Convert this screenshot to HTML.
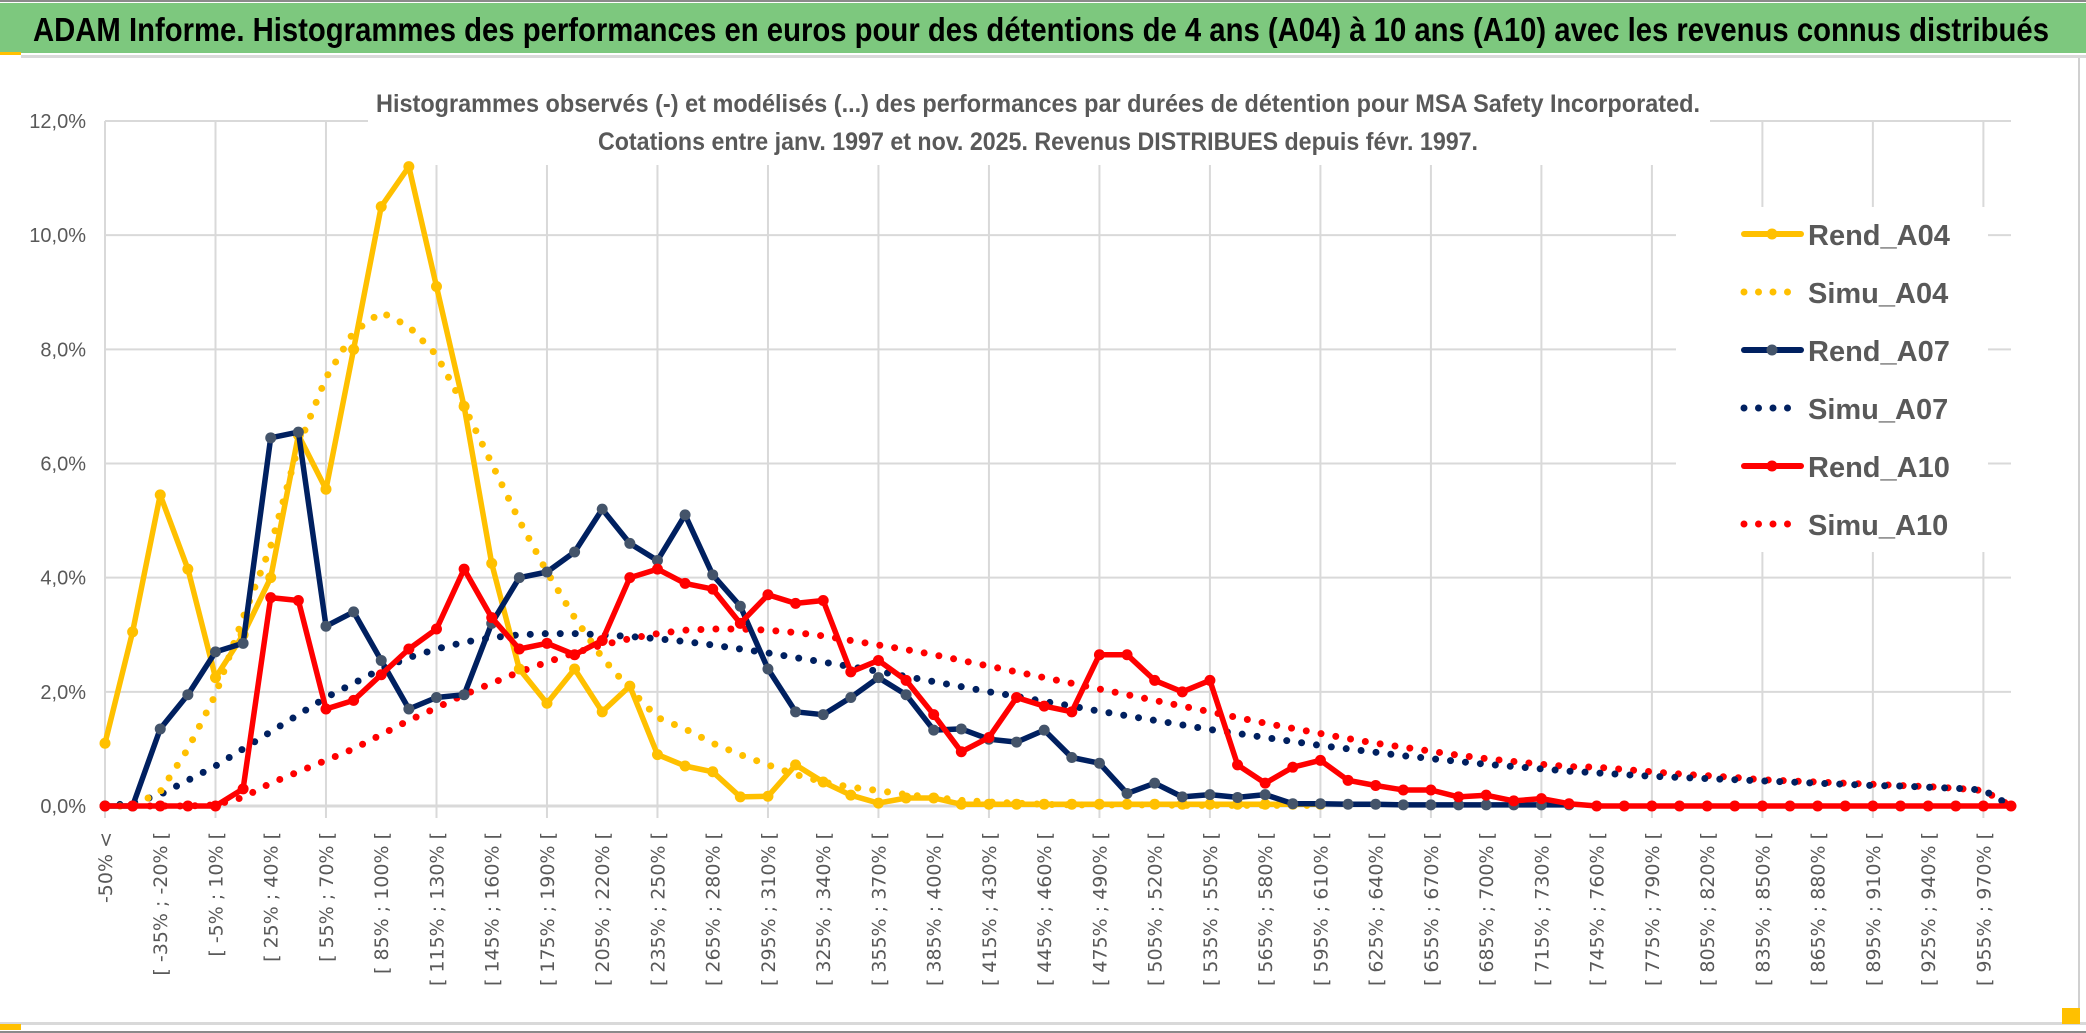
<!DOCTYPE html>
<html><head><meta charset="utf-8"><style>
html,body{margin:0;padding:0;background:#fff;}
svg{display:block;}
</style></head><body>
<svg id="chart" width="2086" height="1033" viewBox="0 0 2086 1033" xmlns="http://www.w3.org/2000/svg">
<rect x="0" y="0" width="2086" height="1033" fill="#fff"/>
<rect x="0" y="0" width="2086" height="2" fill="#8a8a8a"/>
<rect x="0" y="3" width="2086" height="50" fill="#7DC87E"/>
<rect x="0" y="52" width="21" height="3" fill="#FFC000"/>
<rect x="21" y="55" width="2065" height="3" fill="#d9d9d9"/>
<text x="33" y="41" font-family="'Liberation Sans Narrow','Liberation Sans',sans-serif" font-weight="bold" font-size="33" fill="#000" textLength="2016" lengthAdjust="spacingAndGlyphs">ADAM Informe. Histogrammes des performances en euros pour des détentions de 4 ans (A04) à 10 ans (A10) avec les revenus connus distribués</text>
<rect x="0" y="1022" width="2086" height="3" fill="#d9d9d9"/>
<rect x="0" y="1031" width="2086" height="2" fill="#8a8a8a"/>
<rect x="0" y="1024" width="21" height="6" fill="#FFC000"/>
<rect x="2078" y="58" width="2" height="966" fill="#d0d0d0"/>
<rect x="2062" y="1008" width="18" height="16" fill="#FFC000"/>
<g id="grid"></g>
<rect x="368" y="78" width="1342" height="87" fill="#fff"/>
<text x="1038" y="112" text-anchor="middle" font-family="'Liberation Sans Narrow','Liberation Sans',sans-serif" font-weight="bold" font-size="25" fill="#595959" textLength="1324" lengthAdjust="spacingAndGlyphs">Histogrammes observés (-) et modélisés (...) des performances par durées de détention pour MSA Safety Incorporated.</text>
<text x="1038" y="150" text-anchor="middle" font-family="'Liberation Sans Narrow','Liberation Sans',sans-serif" font-weight="bold" font-size="25" fill="#595959" textLength="880" lengthAdjust="spacingAndGlyphs">Cotations entre janv. 1997 et nov. 2025. Revenus DISTRIBUES depuis févr. 1997.</text>
<g id="yaxis"></g>
<g id="xaxis"></g>
<g id="series"></g>
<rect x="1676" y="207" width="312" height="345" fill="#fff"/>
<g id="legend"></g>
</svg>
<script>
const yTicks = [0, 2, 4, 6, 8, 10, 12];
const yTickLabels = ["0,0%", "2,0%", "4,0%", "6,0%", "8,0%", "10,0%", "12,0%"];
const rendA04 = [1.1,3.05,5.45,4.15,2.25,3.0,4.0,6.5,5.55,8.0,10.5,11.2,9.1,7.0,4.25,2.4,1.8,2.4,1.65,2.1,0.9,0.7,0.6,0.16,0.17,0.72,0.42,0.19,0.05,0.14,0.14,0.03,0.03,0.03,0.03,0.03,0.03,0.03,0.03,0.03,0.03,0.03,0.03,0.03,0.03];
const simuA04 = [0,0,0.25,1.0,1.95,3.3,4.55,6.3,7.5,8.3,8.65,8.4,7.9,7.0,6.0,5.0,4.1,3.3,2.6,2.05,1.55,1.35,1.1,0.9,0.72,0.55,0.42,0.33,0.27,0.2,0.15,0.1,0.07,0.05,0.03,0.02,0.02,0.02,0.02,0.01,0.01,0.01,0.01,0.01,0.01];
const rendA07 = [0,0,1.35,1.95,2.7,2.85,6.45,6.55,3.15,3.4,2.55,1.7,1.9,1.95,3.2,4.0,4.1,4.45,5.2,4.6,4.3,5.1,4.05,3.5,2.4,1.65,1.6,1.9,2.25,1.95,1.33,1.35,1.17,1.12,1.33,0.85,0.75,0.22,0.4,0.16,0.2,0.15,0.2,0.04,0.04,0.03,0.03,0.02,0.02,0.02,0.02,0.02,0.02,0.02];
const simuA07 = [0,0.05,0.2,0.45,0.7,1.0,1.3,1.6,1.9,2.15,2.4,2.6,2.75,2.87,2.95,3.0,3.02,3.02,3.0,2.97,2.93,2.88,2.82,2.75,2.68,2.6,2.52,2.44,2.36,2.27,2.18,2.09,2.0,1.92,1.83,1.75,1.66,1.58,1.5,1.42,1.34,1.27,1.2,1.13,1.06,1.0,0.94,0.88,0.83,0.78,0.73,0.69,0.65,0.61,0.58,0.55,0.52,0.5,0.48,0.46,0.44,0.42,0.4,0.38,0.36,0.35,0.33,0.31,0.28,0.0];
const rendA10 = [0,0,0,0,0,0.3,3.65,3.6,1.7,1.85,2.3,2.75,3.1,4.15,3.3,2.75,2.85,2.65,2.9,4.0,4.15,3.9,3.8,3.2,3.7,3.55,3.6,2.35,2.55,2.2,1.6,0.95,1.2,1.9,1.75,1.65,2.65,2.65,2.2,2.0,2.2,0.72,0.4,0.68,0.8,0.45,0.36,0.28,0.28,0.16,0.19,0.09,0.13,0.04,0,0,0,0,0,0,0,0,0,0,0,0,0,0,0,0];
const simuA10 = [0,0,0,0,0.02,0.15,0.4,0.6,0.8,1.0,1.25,1.5,1.72,1.95,2.15,2.35,2.52,2.68,2.82,2.93,3.02,3.08,3.1,3.1,3.08,3.04,2.98,2.9,2.82,2.74,2.65,2.55,2.45,2.35,2.25,2.15,2.05,1.95,1.85,1.75,1.65,1.55,1.45,1.36,1.27,1.18,1.1,1.03,0.96,0.89,0.83,0.78,0.73,0.69,0.68,0.64,0.6,0.56,0.53,0.5,0.46,0.44,0.42,0.4,0.38,0.36,0.34,0.31,0.27,0.0];
const nCat = 70;
const categories = [];
for (let k = 0; k < nCat; k++) {
  if (k === 0) categories.push("-50% <");
  else if (k === nCat - 1) categories.push("> 970%");
  else { const lo = -50 + 15 * (k - 1); categories.push("[ " + lo + "% ; " + (lo + 15) + "% ["); }
}
const NS = "http://www.w3.org/2000/svg";
const X0 = 105, X1 = 2011, Y0 = 806, Y12 = 121;
const xScale = i => X0 + i * (X1 - X0) / (nCat - 1);
const yScale = v => Y0 - v * (Y0 - Y12) / 12;
function mk(tag, attrs, parent) {
  const e = document.createElementNS(NS, tag);
  for (const k in attrs) e.setAttribute(k, attrs[k]);
  parent.appendChild(e);
  return e;
}
const grid = document.getElementById('grid');
yTicks.forEach((t, i) => {
  const l = mk('line', {x1: X0, x2: X1, y1: yScale(t), y2: yScale(t), stroke: '#d9d9d9', 'stroke-width': t === 0 ? 3 : 2}, grid);
  
  
});
for (let i = 0; i < nCat; i += 4) {
  const l = mk('line', {x1: xScale(i), x2: xScale(i), y1: Y12, y2: Y0 + 12, stroke: '#d9d9d9', 'stroke-width': 2}, grid);
  
  
}
const yaxis = document.getElementById('yaxis');
yTicks.forEach((t, i) => {
  const tx = mk('text', {x: 86, y: yScale(t) + 7, 'text-anchor': 'end', 'font-family': "'Liberation Sans Narrow','Liberation Sans',sans-serif", 'font-size': 20, fill: '#595959'}, yaxis);
  tx.textContent = yTickLabels[i];
  
  
});
const xaxis = document.getElementById('xaxis');
for (let i = 0; i < nCat; i += 2) {
  const x = xScale(i) + 7, y = 832;
  const tx = mk('text', {x: x, y: y, 'text-anchor': 'end', transform: 'rotate(-90 ' + x + ' ' + y + ')', 'font-family': "'DejaVu Sans',sans-serif", 'font-size': 19, fill: '#595959'}, xaxis);
  tx.textContent = categories[i];
  
  
}
const series = document.getElementById('series');
function drawLine(vals, color, dotted, marker, name) {
  const g = mk('g', {}, series);
  
  
  const pts = vals.map((v, i) => xScale(i).toFixed(1) + ',' + yScale(v).toFixed(1)).join(' ');
  const attrs = {points: pts, fill: 'none', stroke: color, 'stroke-linejoin': 'round', 'stroke-linecap': 'round'};
  if (dotted) { attrs['stroke-width'] = 7; attrs['stroke-dasharray'] = '0 15'; }
  else attrs['stroke-width'] = 5.5;
  const pl = mk('polyline', attrs, g);
  
  
  if (marker) vals.forEach((v, i) => {
    const c = mk('circle', {cx: xScale(i), cy: yScale(v), r: 5.5, fill: marker}, g);
    
    
  });
}
drawLine(simuA10, '#FF0000', true, null, 'simu-a10');
drawLine(simuA07, '#002060', true, null, 'simu-a07');
drawLine(simuA04, '#FFC000', true, null, 'simu-a04');
drawLine(rendA04, '#FFC000', false, '#FFC000', 'rend-a04');
drawLine(rendA07, '#002060', false, '#44546A', 'rend-a07');
drawLine(rendA10, '#FF0000', false, '#FF0000', 'rend-a10');
const legend = document.getElementById('legend');
const legNames = ["Rend_A04", "Simu_A04", "Rend_A07", "Simu_A07", "Rend_A10", "Simu_A10"];
const legColors = ["#FFC000", "#FFC000", "#002060", "#002060", "#FF0000", "#FF0000"];
const legMarkers = ["#FFC000", null, "#44546A", null, "#FF0000", null];
legNames.forEach((n, i) => {
  const y = 234 + i * 58;
  const g = mk('g', {}, legend);
  
  
  if (i % 2 === 0) {
    mk('line', {x1: 1744, x2: 1801, y1: y, y2: y, stroke: legColors[i], 'stroke-width': 6, 'stroke-linecap': 'round'}, g);
    mk('circle', {cx: 1772, cy: y, r: 5.5, fill: legMarkers[i]}, g);
  } else {
    const len = n === 'Simu_A10' ? 58 : 44;
    mk('line', {x1: 1744, x2: 1744 + len, y1: y, y2: y, stroke: legColors[i], 'stroke-width': 7, 'stroke-dasharray': '0 14.5', 'stroke-linecap': 'round'}, g);
  }
  const tx = mk('text', {x: 1808, y: y + 11, 'font-family': "'Liberation Sans Narrow','Liberation Sans',sans-serif", 'font-weight': 'bold', 'font-size': 29, fill: '#595959'}, g);
  tx.textContent = n;
});
</script>
</body></html>
